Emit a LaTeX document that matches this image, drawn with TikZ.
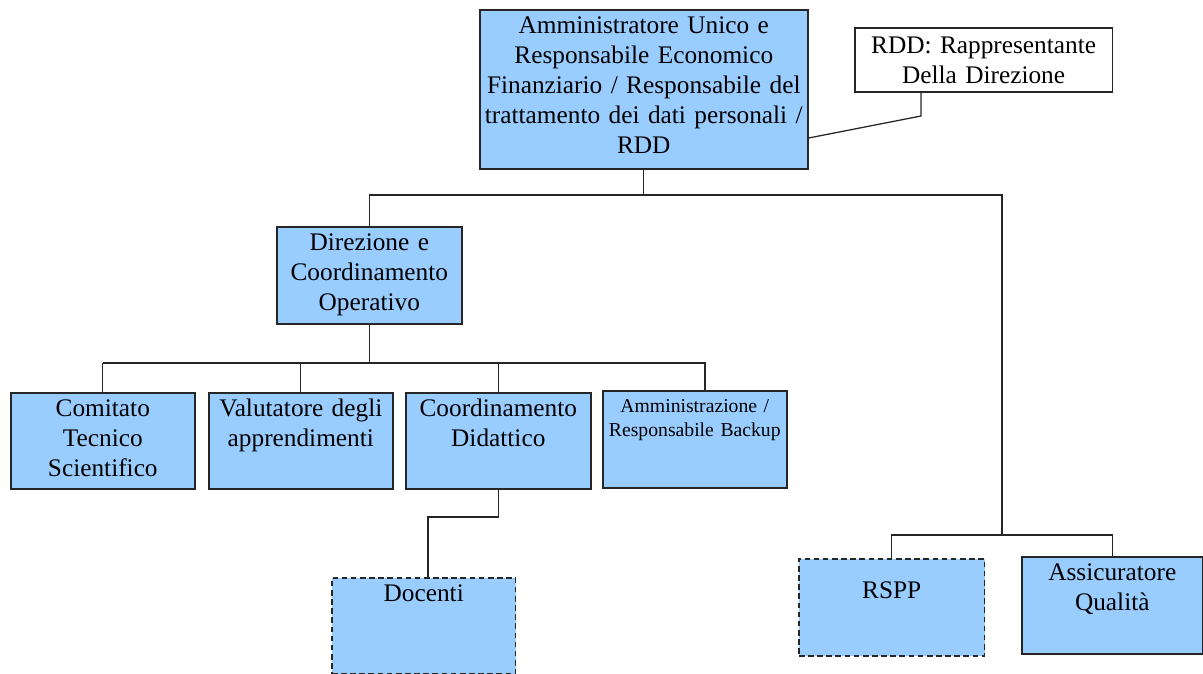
\documentclass[tikz,border=0pt]{standalone}
\usepackage{fontspec}
\setmainfont{Liberation Serif}
\usepackage{tikz}
\usetikzlibrary{positioning}
\definecolor{boxblue}{RGB}{153,204,255}
\def\px{*0.025cm}
\tikzset{
  orgbox/.style={draw=black!85,line width=1.4pt,fill=boxblue,anchor=north west,
    inner xsep=2pt,inner ysep=0pt,align=center,text height=24\px,
    font=\fontsize{18}{21.3}\selectfont},
  dashbox/.style={orgbox,line width=1.3pt,dash pattern=on 4pt off 2.5pt},
  link/.style={draw=black!85,line width=0.9pt}
}
\begin{document}
\begin{tikzpicture}[x=0.025cm,y=-0.025cm]
\useasboundingbox (0,0) rectangle (1203,673);
% top level
\node[orgbox,text width=322\px,text depth=135\px] (amm) at (479,9)
  {Amministratore Unico e\\ Responsabile Economico\\ Finanziario / Responsabile del\\ trattamento dei dati personali /\\ RDD};
\node[orgbox,fill=white,line width=1.1pt,text width=252\px,text height=26\px,text depth=38\px] (rdd) at (854,27)
  {RDD: Rappresentante\\ Della Direzione};
\node[orgbox,text width=179\px,text depth=73\px] (dir) at (276,226)
  {Direzione e\\ Coordinamento\\ Operativo};
% second level
\node[orgbox,text width=178\px,text depth=72\px] (cts) at (10,392) {Comitato\\ Tecnico\\ Scientifico};
\node[orgbox,text width=178\px,text depth=72\px] (val) at (208,392) {Valutatore degli\\ apprendimenti};
\node[orgbox,text width=179\px,text depth=72\px] (cdd) at (405,392) {Coordinamento\\ Didattico};
\node[orgbox,text width=178\px,text height=22\px,text depth=75\px,font=\fontsize{14}{16.4}\selectfont] (adm) at (602,390)
  {Amministrazione /\\ Responsabile Backup};
\node[dashbox,text width=178\px,text depth=72\px] (doc) at (331,577) {Docenti};
\node[dashbox,text width=180\px,text height=40\px,text depth=57\px] (rspp) at (798,558) {RSPP};
\node[orgbox,text width=175\px,text depth=73\px] (asq) at (1021,556) {Assicuratore\\ Qualità};
% connectors
\coordinate (j1) at (642,195);
\coordinate (qa) at (1002,535);
\coordinate (j2) at (370,363);
\coordinate (ab) at (705,363);
\coordinate (dk) at (428,517);
\coordinate (rk) at (921,116);
\coordinate (rs) at (0,138);
\draw[link] (amm.south) -- (amm.south |- j1);
\draw[link] (dir.north) |- (j1) -| (qa);
\draw[link] (rspp.north) |- (qa) -| (asq.north);
\draw[link] (rdd.south -| rk) -- (rk) -- (amm.east |- rs);
\draw[link] (dir.south) -- (dir.south |- j2);
\draw[link] (cts.north |- j2) -- (ab) -- (ab |- adm.north);
\foreach \n in {cts,val,cdd}
  \draw[link] (\n.north) -- (\n.north |- j2);
\draw[link] (cdd.south) |- (dk) -- (dk |- doc.north);
\end{tikzpicture}
\end{document}
